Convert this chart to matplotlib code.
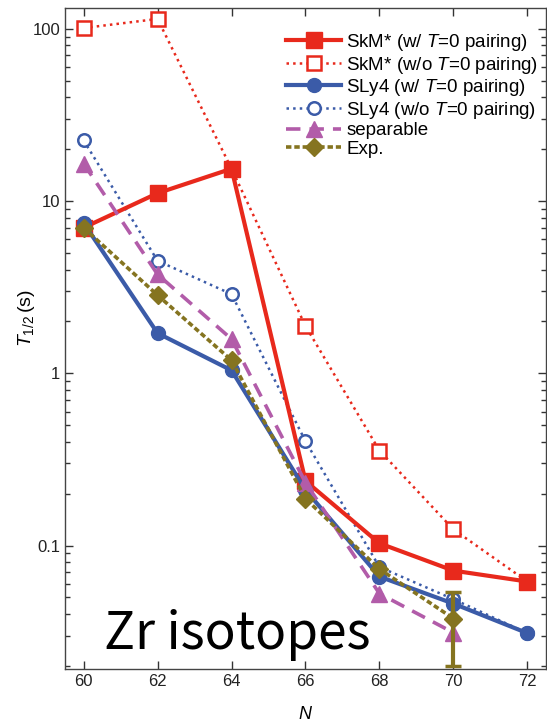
import numpy as np
import matplotlib.pyplot as plt
import matplotlib

matplotlib.rcParams['font.family'] = ['Liberation Sans', 'DejaVu Sans']
matplotlib.rcParams['mathtext.fontset'] = 'custom'
matplotlib.rcParams['mathtext.it'] = 'Liberation Sans:italic'
matplotlib.rcParams['mathtext.rm'] = 'Liberation Sans'

# 中子数 N
N_all = [60, 62, 64, 66, 68, 70, 72]
N_sep = [60, 62, 64, 66, 68, 70]
N_exp = [60, 62, 64, 66, 68, 70]

# 半衰期 T1/2 (s)
skm_w = [7.0, 11.1, 15.4, 0.237, 0.103, 0.0715, 0.0618]
skm_wo = [101, 114, 15.4, 1.88, 0.356, 0.124, 0.0618]
sly4_w = [7.45, 1.71, 1.04, 0.21, 0.066, 0.046, 0.031]
sly4_wo = [22.5, 4.5, 2.88, 0.403, 0.075, 0.0488, 0.031]
sep = [16.5, 3.75, 1.58, 0.232, 0.0526, 0.0312]
exp = [7.0, 2.84, 1.19, 0.187, 0.073, 0.0377]
# 实验误差（只有 N=70 有）
err_N = [70]
err_val = [0.0377]
err_lo = [0.0377 - 0.0200]
err_hi = [0.0534 - 0.0377]

red = '#e8291c'
blue = '#3b5ba8'
mag = '#b25ca9'
olive = '#857420'

fig = plt.figure(figsize=(5.47, 7.26), dpi=100)
ax = fig.add_axes([0.119, 0.0785, 0.879, 0.9105])

h2, = ax.plot(N_all, skm_wo, ':', color=red, lw=1.8, marker='s', ms=10,
              mfc='white', mec=red, mew=1.8, label=r'SkM* (w/o $T$=0 pairing)')
h4, = ax.plot(N_all, sly4_wo, ':', color=blue, lw=1.8, marker='o', ms=9,
              mfc='white', mec=blue, mew=1.8, label=r'SLy4 (w/o $T$=0 pairing)')
h1, = ax.plot(N_all, skm_w, '-', color=red, lw=3, marker='s', ms=11,
              mfc=red, mec=red, label=r'SkM* (w/ $T$=0 pairing)')
h3, = ax.plot(N_all, sly4_w, '-', color=blue, lw=3, marker='o', ms=10,
              mfc=blue, mec=blue, label=r'SLy4 (w/ $T$=0 pairing)')
h5, = ax.plot(N_sep, sep, '--', color=mag, lw=2.6, dashes=(4, 2.5), marker='^', ms=11,
              mfc=mag, mec=mag, label='separable')
ax.errorbar(err_N, err_val, yerr=[err_lo, err_hi], fmt='none', ecolor=olive,
            elinewidth=3, capsize=6, capthick=2.5)
h6, = ax.plot(N_exp, exp, '--', color=olive, lw=2.6, dashes=(1.5, 0.8), marker='D',
              ms=9, mfc=olive, mec=olive, label='Exp.')

ax.set_yscale('log')
ax.set_xlim(59.5, 72.5)
ax.set_ylim(0.0192, 132)
ax.set_xticks(N_all)
ax.set_yticks([0.1, 1, 10, 100])
ax.set_yticklabels(['0.1', '1', '10', '100'])

ax.tick_params(which='both', direction='in', top=True, right=True, labelsize=12,
               colors='#333333', labelcolor='#222222')
ax.tick_params(which='major', length=6, width=1)
ax.tick_params(which='minor', length=3.5, width=1)
for s in ax.spines.values():
    s.set_color('#444444')
    s.set_linewidth(1)

ax.set_xlabel(r'$N$', fontsize=13, labelpad=12)
ax.set_ylabel(r'$T_{1/2}\,$(s)', fontsize=14)
ax.yaxis.set_label_coords(-0.058, 0.53)

ax.legend(handles=[h1, h2, h3, h4, h5, h6], loc='upper right', frameon=False,
          fontsize=13.5, handlelength=2.9, handletextpad=0.3, labelspacing=0.08,
          borderaxespad=0.0, bbox_to_anchor=(1.0, 0.975))

ax.text(0.08, 0.03, 'Zr isotopes', transform=ax.transAxes, fontsize=37,
        family=['Noto Sans CJK JP', 'DejaVu Sans'], color='black')

plt.savefig('out.png', dpi=100)
